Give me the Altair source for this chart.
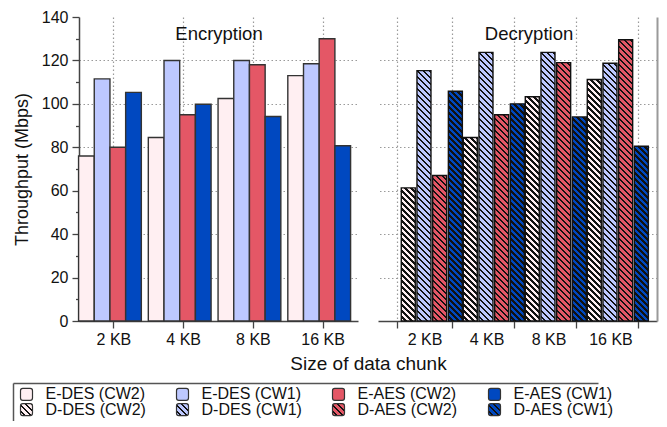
import altair as alt
import pandas as pd

# ---- data -------------------------------------------------------------
sizes = ["2 KB", "4 KB", "8 KB", "16 KB"]
enc_series = ["E-DES (CW2)", "E-DES (CW1)", "E-AES (CW2)", "E-AES (CW1)"]
dec_series = ["D-DES (CW2)", "D-DES (CW1)", "D-AES (CW2)", "D-AES (CW1)"]

# throughput in Mbps, one value per chunk size
e_des_cw2 = [76.0, 84.5, 102.5, 113.0]
e_des_cw1 = [111.5, 120.0, 120.0, 118.5]
e_aes_cw2 = [80.0, 95.0, 118.0, 130.0]
e_aes_cw1 = [105.3, 99.8, 94.2, 80.7]

d_des_cw2 = [61.3, 84.5, 103.3, 111.2]
d_des_cw1 = [115.3, 123.7, 123.7, 118.7]
d_aes_cw2 = [67.0, 95.0, 119.0, 129.5]
d_aes_cw1 = [105.8, 100.0, 94.0, 80.5]

palette = ["#FFEFF2", "#BDC8FF", "#E45766", "#0048C0"]

# ---- layout / style ---------------------------------------------------
FONT = "Liberation Sans, Arial, Helvetica, sans-serif"
PANEL_W, PANEL_H = 279, 304
Y_MAX = 140
GRID_DASH = [1.5, 2.5]
GRID_COLOR = "#9a9a9a"
INK = "#333333"

# band geometry: the group gap comes from the x scale, bars inside a group touch
LEFT_PAD_IN, LEFT_PAD_OUT = 0.1, 0.05
RIGHT_PAD_IN = 0.097
RIGHT_PAD_OUT = (PANEL_W / 62 - 4 + RIGHT_PAD_IN) / 2
left_band = PANEL_W / (4 - LEFT_PAD_IN + 2 * LEFT_PAD_OUT) * (1 - LEFT_PAD_IN)
right_band = PANEL_W / (4 - RIGHT_PAD_IN + 2 * RIGHT_PAD_OUT) * (1 - RIGHT_PAD_IN)
left_bar_w = left_band / 4
right_bar_w = right_band / 4


def long_table(names, columns):
    rows = []
    for name, vals in zip(names, columns):
        for size, v in zip(sizes, vals):
            rows.append({"size": size, "series": name, "value": v})
    return pd.DataFrame(rows)


enc_df = long_table(enc_series, [e_des_cw2, e_des_cw1, e_aes_cw2, e_aes_cw1])
dec_df = long_table(dec_series, [d_des_cw2, d_des_cw1, d_aes_cw2, d_aes_cw1])


def hatch(color, w, h, period=6.0, ink=0.42, line="#111111"):
    """Linear gradient with hard stops that draws 45-degree '\\' stripes
    on a w x h box (gradient coordinates are in bounding-box units)."""
    span = w + h
    a = w * span / (w * w + h * h)
    q = period / span
    stops = []
    k = 0
    while k * q < 1:
        o0 = round(k * q, 5)
        o1 = round(min((k + 1 - ink) * q, 1.0), 5)
        o2 = round(min((k + 1) * q, 1.0), 5)
        stops += [
            {"offset": o0, "color": color},
            {"offset": o1, "color": color},
            {"offset": o1, "color": line},
            {"offset": o2, "color": line},
        ]
        k += 1
    return {
        "gradient": "linear",
        "x1": 0, "y1": 1,
        "x2": round(a, 6), "y2": round(1 - a * h / w, 6),
        "stops": stops,
    }


# ---- shared axis pieces -----------------------------------------------
y_ticks = list(range(0, Y_MAX + 1, 10))
minor_test = "datum.value % 20 !== 0"
grid_opacity = {
    "condition": {"test": "datum.value % 20 !== 0 || datum.value === 0 || datum.value >= 140",
                  "value": 0},
    "value": 1,
}
y_scale = alt.Scale(domain=[0, Y_MAX], nice=False, zero=True)
offset_scale = alt.Scale(type="band", paddingInner=0, paddingOuter=0)


def x_axis(caption, caption_dx=0, **extra):
    # the panel caption sits inside the plot, 22 px below its top edge
    return alt.Axis(
        title=caption, titleX=PANEL_W / 2 + caption_dx, titleY=22 - PANEL_H,
        titleBaseline="alphabetic", titleAlign="center", titleFont=FONT,
        titleFontSize=18.5, titleFontWeight="normal", titleColor="#111",
        labelAngle=0, labelFont=FONT, labelFontSize=16, labelColor="#111",
        labelPadding=3, tickSize=7, tickColor="#444", tickWidth=1.3,
        domainColor="#444", domainWidth=1.5,
        grid=True, gridColor=GRID_COLOR, gridDash=GRID_DASH, gridWidth=1.2,
        **extra,
    )


# ---- encryption panel (solid bars) --------------------------------------
left = alt.Chart(enc_df).mark_bar(
    stroke=INK, strokeWidth=1.4, width=left_bar_w
).encode(
    x=alt.X("size:N", sort=sizes,
            scale=alt.Scale(paddingInner=LEFT_PAD_IN, paddingOuter=LEFT_PAD_OUT),
            axis=x_axis("Encryption")),
    xOffset=alt.XOffset("series:N", sort=enc_series, scale=offset_scale),
    y=alt.Y("value:Q", scale=y_scale,
            axis=alt.Axis(
                values=y_ticks, title="Throughput (Mbps)",
                labelExpr="datum.value % 20 === 0 ? datum.label : ''",
                tickSize={"condition": {"test": minor_test, "value": 3.5}, "value": 7},
                tickColor="#444", tickWidth=1.3, domainColor="#444", domainWidth=1.5,
                labelFont=FONT, labelFontSize=16, labelColor="#111", labelPadding=4,
                titleFont=FONT, titleFontSize=18, titleFontWeight="normal",
                titleColor="#111", titlePadding=10,
                grid=True, gridColor=GRID_COLOR, gridDash=GRID_DASH, gridWidth=1.2,
                gridOpacity=grid_opacity,
            )),
    fill=alt.Fill("series:N", scale=alt.Scale(domain=enc_series, range=palette), legend=None),
).properties(width=PANEL_W, height=PANEL_H)

# ---- decryption panel (hatched bars) ------------------------------------
dec_fill_rules = []
for name, color, vals in zip(dec_series, palette, [d_des_cw2, d_des_cw1, d_aes_cw2, d_aes_cw1]):
    for size, v in zip(sizes, vals):
        dec_fill_rules.append({
            "test": f"datum.series === '{name}' && datum.size === '{size}'",
            "value": hatch(color, right_bar_w, v / Y_MAX * PANEL_H),
        })

right = alt.Chart(dec_df).mark_bar(
    stroke="#111", strokeWidth=1.4, width=right_bar_w
).encode(
    x=alt.X("size:N", sort=sizes,
            scale=alt.Scale(paddingInner=RIGHT_PAD_IN, paddingOuter=RIGHT_PAD_OUT),
            axis=x_axis("Decryption", caption_dx=11, tickBand="extent")),
    xOffset=alt.XOffset("series:N", sort=dec_series, scale=offset_scale),
    y=alt.Y("value:Q", scale=y_scale,
            axis=alt.Axis(
                orient="right", values=y_ticks, title=None, labels=False, ticks=False,
                domain=True, domainColor="#9a9a9a", domainWidth=2, minExtent=0,
                grid=True, gridColor=GRID_COLOR, gridDash=GRID_DASH, gridWidth=1.2,
                gridOpacity=grid_opacity,
            )),
    fill={"condition": dec_fill_rules, "value": "white"},
).properties(width=PANEL_W, height=PANEL_H)

panels = alt.hconcat(left, right, spacing=20, bounds="flush")

# ---- legend box (also carries the shared x title above it) -------------
legend_labels = enc_series + dec_series
legend_df = pd.DataFrame({
    "label": legend_labels,
    "col": list(range(4)) * 2,
    "row": [0] * 4 + [1] * 4,
})
LEG_LEFT, LEG_RIGHT, LEG_H = -66, 519, 38   # box edges relative to the plot's left edge
leg_step = 156
ROUND_SQUARE = ("M-0.62,-1H0.62A0.38,0.38 0 0 1 1,-0.62V0.62A0.38,0.38 0 0 1 0.62,1"
                "H-0.62A0.38,0.38 0 0 1 -1,0.62V-0.62A0.38,0.38 0 0 1 -0.62,-1Z")

leg_fill_rules = []
for name, color in zip(enc_series, palette):
    leg_fill_rules.append({"test": f"datum.label === '{name}'", "value": color})
for name, color in zip(dec_series, palette):
    leg_fill_rules.append({"test": f"datum.label === '{name}'", "value": hatch(color, 12, 12)})

# the top axis line is the box's upper edge; the first column's grid line is its left edge
leg_base = alt.Chart(legend_df).encode(
    x=alt.X("col:O",
            scale=alt.Scale(type="point", domain=[0, 1, 2, 3], range=[LEG_LEFT, LEG_RIGHT],
                            padding=((LEG_RIGHT - LEG_LEFT) / leg_step - 3) / 2, align=0),
            axis=alt.Axis(orient="top", labels=False, ticks=False,
                          grid=True, gridColor="#555", gridWidth=1.5,
                          gridOpacity={"condition": {"test": "datum.value === 0", "value": 1},
                                       "value": 0},
                          title="Size of data chunk", titleX=(2 * PANEL_W + 20) / 2,
                          titleY=-14, titleBaseline="alphabetic", titleAlign="center",
                          titleFont=FONT, titleFontSize=19, titleFontWeight="normal",
                          titleColor="#111",
                          domainColor="#555", domainWidth=1.5, minExtent=0)),
    y=alt.Y("row:O",
            scale=alt.Scale(type="band", domain=[0, 1], paddingInner=0,
                            paddingOuter=0.25, align=0.5),
            axis=None),
)
leg_symbols = leg_base.mark_point(
    shape=ROUND_SQUARE, size=144, filled=True, opacity=1,
    stroke="#333", strokeWidth=1.2, xOffset=13.5,
).encode(fill={"condition": leg_fill_rules, "value": "white"})
leg_text = leg_base.mark_text(
    align="left", baseline="middle", font=FONT, fontSize=16, color="#111",
    xOffset=32.5,
).encode(text="label:N")
legend = alt.layer(leg_symbols, leg_text).properties(
    width=LEG_RIGHT - LEG_LEFT, height=LEG_H
)

chart = alt.vconcat(panels, legend, spacing=7).properties(
    padding={"left": 13, "top": 9, "right": 0, "bottom": 0},
).configure_view(stroke=None)

chart.save("out.html", embed_options={"renderer": "svg", "actions": False})
